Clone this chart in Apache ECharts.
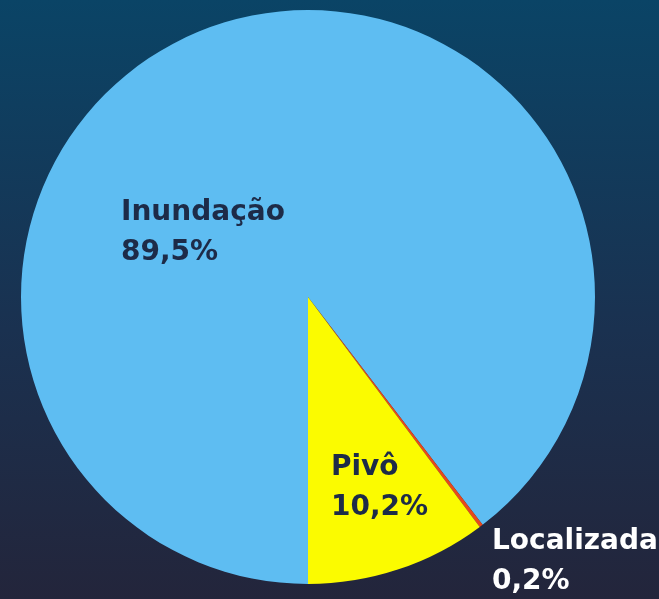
<!DOCTYPE html>
<html>
<head>
<meta charset="utf-8">
<script src="https://cdn.jsdelivr.net/npm/echarts@6/dist/echarts.min.js"></script>
<style>
  html, body { margin: 0; padding: 0; }
  #chart { width: 659px; height: 599px; }
</style>
</head>
<body>
<div id="chart"></div>
<script>
// dados do gráfico
var categories = ['Inundação', 'Localizada', 'Pivô'];
var values = [89.5, 0.2, 10.2];
var colors = ['#5ebdf2', '#e8481c', '#fbfb00'];
var textColors = ['#1d2b48', '#ffffff', '#1d2b48'];
// posição dos rótulos (canto superior esquerdo)
var labelSpots = [[121, 193], [492, 522], [331, 448]];

var myChart = echarts.init(document.getElementById('chart'));

var pieData = [];
for (var i = 0; i < categories.length; i++) {
    pieData.push({
        name: categories[i],
        value: values[i],
        itemStyle: { color: colors[i] },
        label: { color: textColors[i] }
    });
}

var option = {
    backgroundColor: {
        type: 'linear', x: 0, y: 0, x2: 0, y2: 1,
        colorStops: [
            { offset: 0, color: '#0a4466' },
            { offset: 0.55, color: '#1a3150' },
            { offset: 1, color: '#23253b' }
        ]
    },
    animation: false,
    series: [{
        type: 'pie',
        center: [308, 297],
        radius: 287,
        startAngle: -90,
        clockwise: true,
        data: pieData,
        itemStyle: { borderWidth: 0 },
        labelLine: { show: false },
        label: {
            show: true,
            position: 'inside',
            fontFamily: 'DejaVu Sans',
            fontWeight: 'bold',
            fontSize: 28,
            lineHeight: 40,
            align: 'left',
            formatter: function (p) {
                return p.name + '\n' + p.value.toFixed(1).replace('.', ',') + '%';
            }
        },
        labelLayout: function (params) {
            var spot = labelSpots[params.dataIndex];
            return { x: spot[0], y: spot[1], align: 'left', verticalAlign: 'top' };
        }
    }]
};

myChart.setOption(option);
</script>
</body>
</html>
